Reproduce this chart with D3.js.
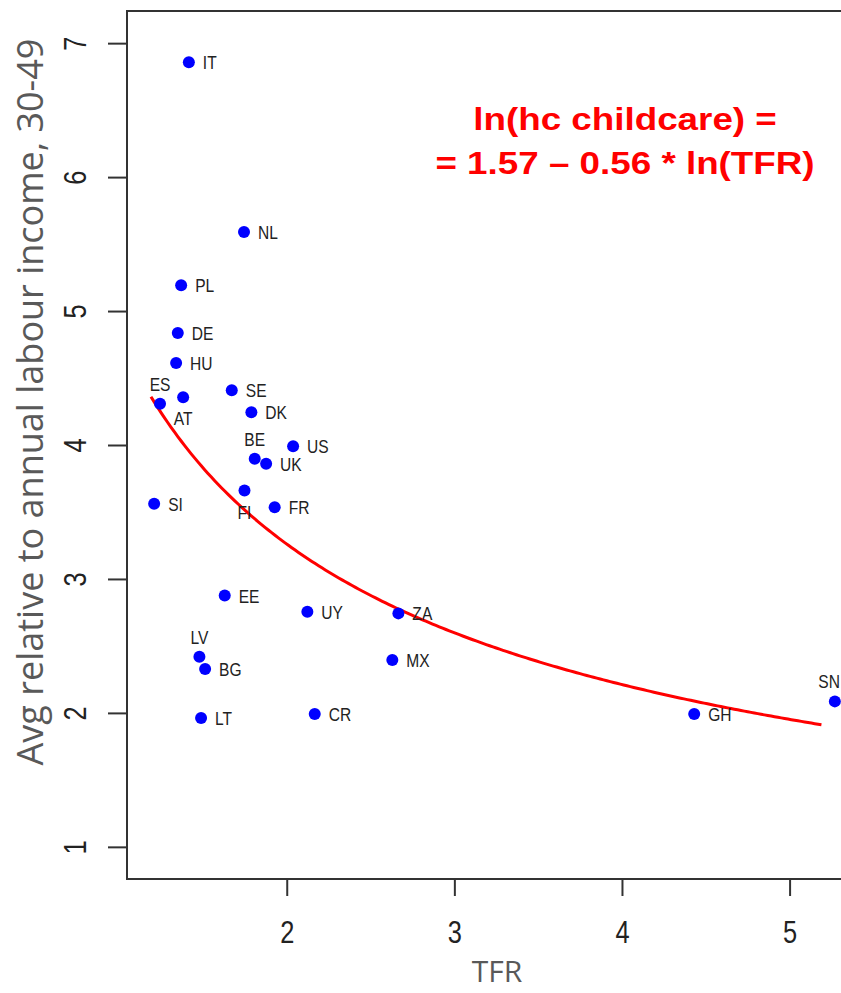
<!DOCTYPE html>
<html><head><meta charset="utf-8">
<script src="https://cdn.jsdelivr.net/npm/d3@7"></script>
<style>body{margin:0;background:#fff}svg{display:block}</style>
</head><body>
<script>
// ---- data ----
const countries = ["IT","NL","PL","DE","HU","ES","AT","SE","DK","BE","UK","US","FI","FR","SI","EE","UY","ZA","LV","BG","MX","LT","CR","GH","SN"];
const tfr =       [1.416,1.745,1.370,1.350,1.340,1.244,1.382,1.672,1.789,1.809,1.877,2.038,1.748,1.928,1.209,1.630,2.123,2.666,1.479,1.513,2.630,1.489,2.167,4.431,5.270];
const childcare = [6.858,5.590,5.192,4.836,4.612,4.308,4.357,4.408,4.245,3.897,3.860,3.991,3.660,3.536,3.561,2.876,2.756,2.743,2.420,2.328,2.395,1.962,1.992,1.992,2.086];
const labelPos =  ["r","r","r","r","r","t","b","r","r","t","r","r","b","r","r","r","r","r","t","r","r","r","r","r","t"];
const xTicks = [2,3,4,5];
const yTicks = [1,2,3,4,5,6,7];
const fitIntercept = 1.57, fitSlope = -0.56, fitFrom = 1.19, fitTo = 5.2;
const eqLines = ["ln(hc childcare) =", "= 1.57 \u2013 0.56 * ln(TFR)"];
const xTitle = "TFR", yTitle = "Avg relative to annual labour income, 30-49";

const W = 841, H = 993;
const svg = d3.select("body").append("svg").attr("width", W).attr("height", H);
const x = d3.scaleLinear().domain([1.047, 5.432]).range([127, 862]);
const y = d3.scaleLinear().domain([0.76, 7.24]).range([879, 11]);
const sans = "'Liberation Sans',Arial,sans-serif";
const NARROW = 0.82;

// frame
svg.append("rect").attr("x", x.range()[0]).attr("y", y.range()[1])
  .attr("width", x.range()[1]-x.range()[0]).attr("height", y.range()[0]-y.range()[1])
  .attr("fill","none").attr("stroke","#333").attr("stroke-width",2);

// axes
const xAxis = svg.append("g").attr("transform",`translate(0,${y.range()[0]})`)
  .call(d3.axisBottom(x).tickValues(xTicks).tickSize(17).tickFormat(d3.format("d")));
xAxis.select(".domain").remove();
xAxis.selectAll(".tick line").attr("stroke","#333").attr("stroke-width",2);
xAxis.selectAll(".tick text").attr("font-family",sans).attr("font-size",31).attr("fill","#222")
  .attr("y",null).attr("dy",null).attr("transform",`translate(0,64) scale(${NARROW},1)`);

const yAxis = svg.append("g").attr("transform",`translate(${x.range()[0]},0)`)
  .call(d3.axisLeft(y).tickValues(yTicks).tickSize(19).tickFormat(d3.format("d")));
yAxis.select(".domain").remove();
yAxis.selectAll(".tick line").attr("stroke","#333").attr("stroke-width",2);
yAxis.selectAll(".tick text").attr("font-family",sans).attr("font-size",31).attr("fill","#222")
  .attr("x",null).attr("dy",null).attr("text-anchor","middle")
  .attr("transform",`translate(-41,0) rotate(-90) scale(${NARROW},1)`);

// titles
svg.append("text").attr("x", 497).attr("y", 982).attr("text-anchor","middle")
  .attr("font-family","'Open Sans',sans-serif").attr("font-size",30).attr("fill","#595959").text(xTitle);
svg.append("text").attr("transform","translate(43,402) rotate(-90)").attr("text-anchor","middle")
  .attr("font-family","'Open Sans',sans-serif").attr("font-size",36).attr("fill","#595959").text(yTitle);

// fitted curve from the chart's equation
const fitT = d3.range(fitFrom, fitTo + 1e-9, 0.02);
const line = d3.line().x(t => x(t)).y(t => y(Math.exp(fitIntercept + fitSlope*Math.log(t))));
svg.append("path").datum(fitT).attr("d", line).attr("fill","none").attr("stroke","#ff0000").attr("stroke-width",3);

// points
const data = countries.map((c,i)=>({c, t:tfr[i], v:childcare[i], p:labelPos[i]}));
const g = svg.append("g");
g.selectAll("circle").data(data).join("circle")
  .attr("cx", d=>x(d.t)).attr("cy", d=>y(d.v)).attr("r",6).attr("fill","#0000ff");
g.selectAll("text").data(data).join("text")
  .attr("text-anchor", d=> d.p==="r" ? "start" : "middle")
  .attr("font-family",sans).attr("font-size",19).attr("fill","#222").text(d=>d.c)
  .attr("transform", function(d){
    let tx = d.p==="r" ? x(d.t)+14 : x(d.t);
    const ty = d.p==="r" ? y(d.v)+7 : d.p==="t" ? y(d.v)-13 : y(d.v)+28;
    const w = this.getComputedTextLength()*NARROW;
    const right = d.p==="r" ? tx + w : tx + w/2;
    if (right > W - 1) tx -= right - (W - 1);
    return `translate(${tx},${ty}) scale(${NARROW},1)`;
  });

// equation
const eq = svg.append("g").attr("transform","translate(625,0) scale(1.15,1)");
eq.selectAll("text").data(eqLines).join("text")
  .attr("x",0).attr("y",(d,i)=> i===0 ? 130 : 174).attr("text-anchor","middle")
  .attr("font-family",sans).attr("font-weight","bold")
  .attr("font-size",32).attr("fill","#ff0000").text(d=>d);
</script>
</body></html>
